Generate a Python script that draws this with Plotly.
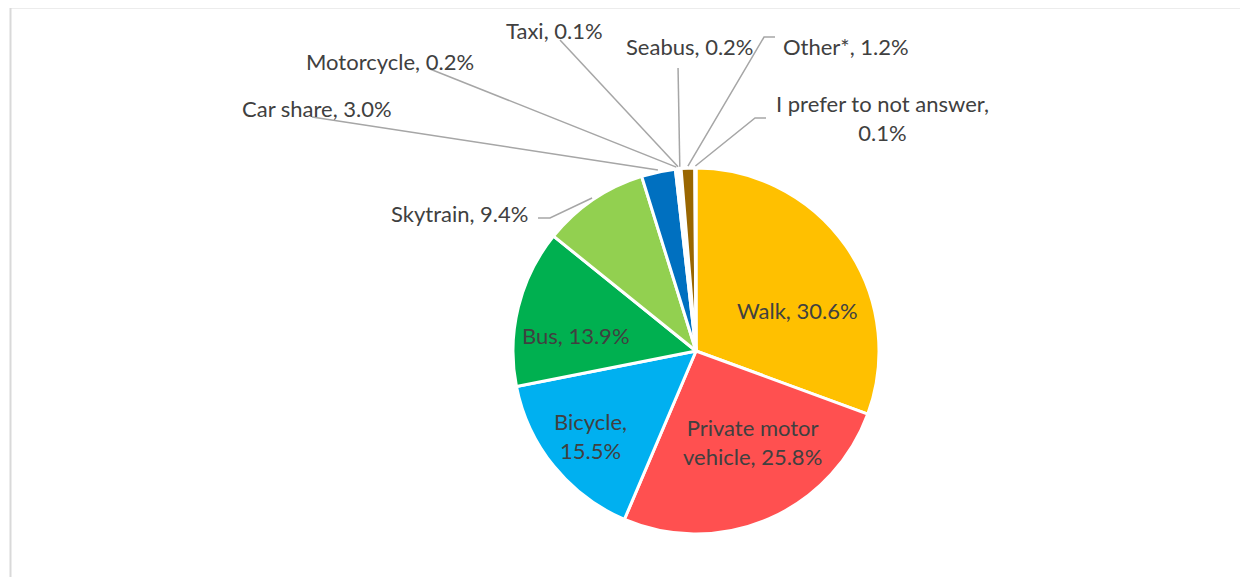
import math
import plotly.graph_objects as go

# data
modes = ['Walk', 'Private motor vehicle', 'Bicycle', 'Bus', 'Skytrain', 'Car share',
         'Motorcycle', 'Taxi', 'Seabus', 'Other*', 'I prefer to not answer']
shares = [30.6, 25.8, 15.5, 13.9, 9.4, 3.0, 0.2, 0.1, 0.2, 1.2, 0.1]
label_text = ['Walk, 30.6%', 'Private motor<br>vehicle, 25.8%', 'Bicycle,<br>15.5%', 'Bus, 13.9%',
              'Skytrain, 9.4%', 'Car share, 3.0%', 'Motorcycle, 0.2%', 'Taxi, 0.1%',
              'Seabus, 0.2%', 'Other*, 1.2%', 'I prefer to not answer,<br>0.1%']
colors = ['#FFC000', '#FF5050', '#00B0F0', '#00B050', '#92D050', '#0070C0',
          '#F4B183', '#C9C9C9', '#9DC3E6', '#996600', '#7F7F7F']

W, H = 1248, 577
OFF = 8   # page body margin, shift everything back by this
CX, CY, R = 696, 351, 183   # pie centre / radius in pixels (screen)
TXT = '#404040'
LINE = '#A6A6A6'

# label centres (pixels) and leader line start points (None = inside label)
label_pos = [(797, 310), (752, 442), (590, 436), (576, 335), (459, 213), (317, 109),
             (390, 61), (554, 31), (690, 46), (846, 47), (883, 118)]
leader_start = [None, None, None, None, [(538, 218), (550, 218)], [(312, 117)],
                [(430, 69)], [(560, 40)], [(678, 68)], [(775, 37), (764, 37)],
                [(766, 118), (755, 118)]]


def px(x, y):
    return (x - OFF) / W, 1 - (y - OFF) / H


dx0, dy1 = px(CX - R, CY - R)
dx1, dy0 = px(CX + R, CY + R)

fig = go.Figure(go.Pie(
    labels=modes, values=shares, sort=False, direction='clockwise', rotation=0,
    marker=dict(colors=colors, line=dict(color='white', width=3)),
    textinfo='none', hoverinfo='label+percent',
    domain=dict(x=[dx0, dx1], y=[dy0, dy1]),
))

annotations = []
shapes = []
total = sum(shares)
cum = 0
for i, v in enumerate(shares):
    mid = (cum + v / 2) / total
    cum += v
    lx, ly = px(*label_pos[i])
    annotations.append(dict(x=lx, y=ly, xref='paper', yref='paper', text=label_text[i],
                            showarrow=False, xanchor='center', yanchor='middle',
                            font=dict(size=22, color=TXT)))
    if leader_start[i] is None:
        continue
    th = 2 * math.pi * mid
    ex, ey = CX + (R + 2) * math.sin(th), CY - (R + 2) * math.cos(th)
    pts = leader_start[i] + [(ex, ey)]
    path = 'M ' + ' L '.join('%.4f,%.4f' % px(x, y) for x, y in pts)
    shapes.append(dict(type='path', xref='paper', yref='paper', path=path,
                       line=dict(color=LINE, width=1.5)))

# chart frame
fx0, fy1 = px(10.5, 7.5)
shapes.append(dict(type='rect', xref='paper', yref='paper', x0=fx0, x1=1.05,
                   y0=-0.05, y1=fy1, line=dict(color='#D9D9D9', width=2)))

fig.update_layout(width=W, height=H, margin=dict(l=0, r=0, t=0, b=0),
                  paper_bgcolor='white', plot_bgcolor='white', showlegend=False,
                  font_family='Lato', annotations=annotations, shapes=shapes)

fig.write_html('out.html')
